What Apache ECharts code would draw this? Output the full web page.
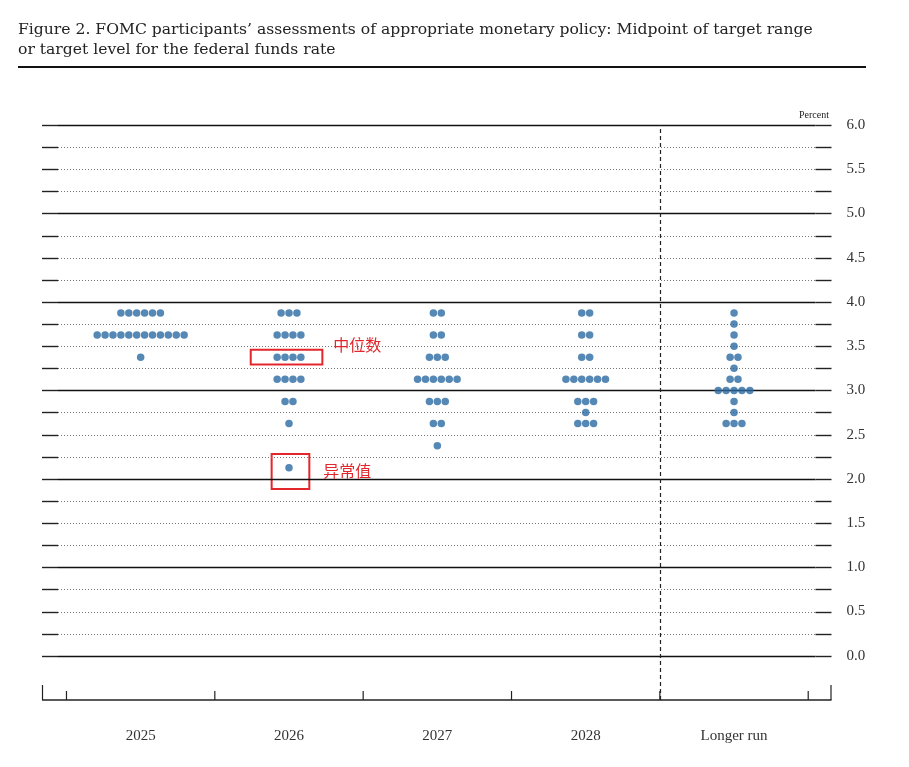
<!DOCTYPE html>
<html>
<head>
<meta charset="utf-8">
<title>FOMC dot plot</title>
<script src="https://cdn.jsdelivr.net/npm/echarts@6/dist/echarts.min.js"></script>
<style>
  html, body { margin: 0; padding: 0; background: #fff; }
  #chart { width: 909px; height: 767px; }
</style>
</head>
<body>
<div id="chart"></div>
<script>
// columns of the dot plot
var categories = ['2025', '2026', '2027', '2028', 'Longer run'];

// [midpoint of target range, number of participants]
var dots2025 = [[3.875, 6], [3.625, 12], [3.375, 1]];
var dots2026 = [[3.875, 3], [3.625, 4], [3.375, 4], [3.125, 4], [2.875, 2], [2.625, 1], [2.125, 1]];
var dots2027 = [[3.875, 2], [3.625, 2], [3.375, 3], [3.125, 6], [2.875, 3], [2.625, 2], [2.375, 1]];
var dots2028 = [[3.875, 2], [3.625, 2], [3.375, 2], [3.125, 6], [2.875, 3], [2.75, 1], [2.625, 3]];
var dotsLonger = [[3.875, 1], [3.75, 1], [3.625, 1], [3.5, 1], [3.375, 2], [3.25, 1], [3.125, 2],
                  [3.0, 5], [2.875, 1], [2.75, 1], [2.625, 3]];

// horizontal rules, every quarter point
var gridLevels = [0, 0.25, 0.5, 0.75, 1, 1.25, 1.5, 1.75, 2, 2.25, 2.5, 2.75, 3, 3.25, 3.5, 3.75,
                  4, 4.25, 4.5, 4.75, 5, 5.25, 5.5, 5.75, 6];
var yTickLabels = ['0.0', '0.5', '1.0', '1.5', '2.0', '2.5', '3.0', '3.5', '4.0', '4.5', '5.0', '5.5', '6.0'];

// annotated values (2026 median, 2026 outlier)
var median2026 = 3.375;
var outlier2026 = 2.125;

var serif = '"Liberation Serif", "DejaVu Serif", serif';
var dotGap = 0.0533; // horizontal spacing between dots, in column units

function spread(rows, col) {
  var out = [];
  rows.forEach(function (r) {
    var n = r[1];
    for (var k = 0; k < n; k++) {
      out.push([col + (k - (n - 1) / 2) * dotGap, r[0]]);
    }
  });
  return out;
}

var allDots = [dots2025, dots2026, dots2027, dots2028, dotsLonger];
var scatterData = [];
allDots.forEach(function (rows, i) { scatterData = scatterData.concat(spread(rows, i)); });

var myChart = echarts.init(document.getElementById('chart'));

var option = {
  animation: false,
  title: {
    text: 'Figure 2. FOMC participants\u2019 assessments of appropriate monetary policy: Midpoint of target range\nor target level for the federal funds rate',
    left: 18,
    top: 20,
    padding: 0,
    textStyle: {
      fontFamily: '"DejaVu Serif", serif',
      fontSize: 15.6,
      fontWeight: 'normal',
      lineHeight: 20,
      color: '#222'
    }
  },
  graphic: [
    { type: 'line', shape: { x1: 18, y1: 67, x2: 866, y2: 67 }, style: { stroke: '#111', lineWidth: 2 } },
    { type: 'text', right: 80, top: 110, style: { text: 'Percent', font: '10px ' + serif, fill: '#222' } }
  ],
  grid: { left: 42, right: 77.5, top: 125, bottom: 67 },
  xAxis: {
    type: 'value',
    min: -0.665,
    max: 4.657,
    axisLine: { show: false },
    axisTick: { show: false },
    axisLabel: { show: false },
    splitLine: { show: false }
  },
  yAxis: {
    type: 'value',
    position: 'right',
    min: -0.5,
    max: 6,
    interval: 0.5,
    axisLine: { show: false },
    axisTick: { show: false },
    splitLine: { show: false },
    axisLabel: {
      margin: 15,
      fontFamily: serif,
      fontSize: 15,
      color: '#333',
      formatter: function (v) {
        var i = Math.round(v / 0.5);
        return i >= 0 ? yTickLabels[i] : '';
      }
    }
  },
  series: [
    {
      // quarter-point rules
      type: 'custom',
      z: 1,
      silent: true,
      data: gridLevels.map(function (v) { return [0, v]; }),
      renderItem: function (params, api) {
        var cs = params.coordSys;
        var y = Math.round(api.coord([0, api.value(1)])[1]) + 0.5;
        var x0 = cs.x, x1 = cs.x + cs.width;
        var whole = api.value(1) % 1 === 0;
        return {
          type: 'group',
          children: [
            {
              type: 'line',
              shape: { x1: x0 + 16, y1: y, x2: x1 - 16, y2: y },
              style: whole ? { stroke: '#111', lineWidth: 1.3 } : { stroke: '#777', lineWidth: 1, lineDash: [1, 2] }
            },
            { type: 'line', shape: { x1: x0, y1: y, x2: x0 + 16, y2: y }, style: { stroke: '#222', lineWidth: 1.4 } },
            { type: 'line', shape: { x1: x1 - 16, y1: y, x2: x1, y2: y }, style: { stroke: '#222', lineWidth: 1.4 } }
          ]
        };
      },
      markLine: {
        silent: true,
        symbol: 'none',
        label: { show: false },
        lineStyle: { color: '#222', type: [4, 3], width: 1.2 },
        data: [{ xAxis: categories.length - 1.5 }]
      }
    },
    {
      // bottom axis, column ticks and labels
      type: 'custom',
      z: 2,
      silent: true,
      clip: false,
      data: categories.map(function (c, i) { return [i, -0.5]; }),
      renderItem: function (params, api) {
        var cs = params.coordSys;
        var i = api.value(0);
        var base = cs.y + cs.height;
        var xc = api.coord([i, 0])[0];
        var xl = api.coord([i - 0.5, 0])[0];
        var kids = [
          { type: 'line', shape: { x1: xl, y1: base, x2: xl, y2: base - 9 }, style: { stroke: '#222', lineWidth: 1.2 } },
          {
            type: 'text',
            style: {
              text: categories[i], x: xc, y: base + 36,
              align: 'center', verticalAlign: 'middle',
              font: '15px ' + serif, fill: '#333'
            }
          }
        ];
        if (i === 0) {
          kids.push({ type: 'line', shape: { x1: cs.x, y1: base, x2: cs.x + cs.width, y2: base }, style: { stroke: '#222', lineWidth: 1.5 } });
          kids.push({ type: 'line', shape: { x1: cs.x + 0.5, y1: base, x2: cs.x + 0.5, y2: base - 15 }, style: { stroke: '#222', lineWidth: 1.2 } });
          kids.push({ type: 'line', shape: { x1: cs.x + cs.width - 0.5, y1: base, x2: cs.x + cs.width - 0.5, y2: base - 15 }, style: { stroke: '#222', lineWidth: 1.2 } });
        }
        if (i === categories.length - 1) {
          var xr = api.coord([i + 0.5, 0])[0];
          kids.push({ type: 'line', shape: { x1: xr, y1: base, x2: xr, y2: base - 9 }, style: { stroke: '#222', lineWidth: 1.2 } });
        }
        return { type: 'group', children: kids };
      }
    },
    {
      type: 'scatter',
      z: 5,
      symbol: 'circle',
      symbolSize: 7.5,
      itemStyle: { color: '#2a6aa3' },
      data: scatterData,
      markArea: {
        silent: true,
        itemStyle: { color: 'rgba(0,0,0,0)', borderColor: '#e3262b', borderWidth: 2 },
        label: {
          show: true,
          position: 'right',
          distance: 10,
          color: '#e3262b',
          fontSize: 16,
          fontFamily: '"Noto Sans CJK SC", sans-serif'
        },
        data: [
          [
            { name: '中位数', coord: [1 - 0.258, median2026 + 0.083], label: { offset: [0, -12] } },
            { coord: [1 + 0.225, median2026 - 0.083] }
          ],
          [
            { name: '异常值', coord: [1 - 0.117, outlier2026 + 0.157], label: { offset: [3, -1] } },
            { coord: [1 + 0.137, outlier2026 - 0.241] }
          ]
        ]
      }
    }
  ]
};

myChart.setOption(option);
</script>
</body>
</html>
